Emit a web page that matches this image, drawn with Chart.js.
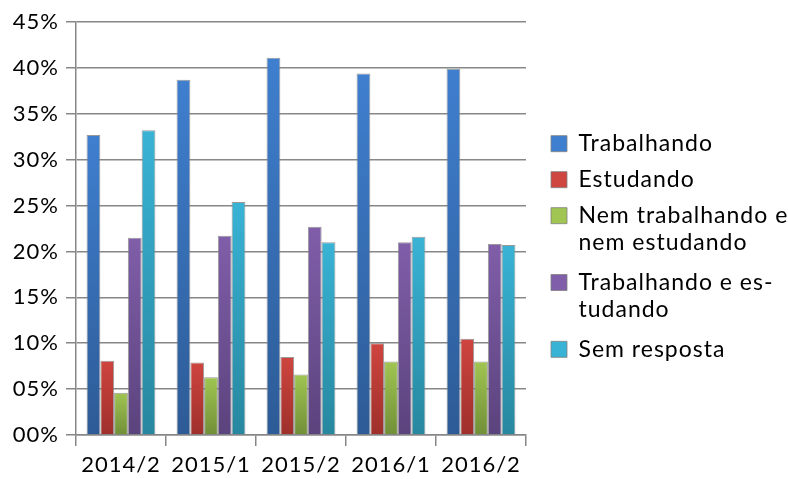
<!DOCTYPE html>
<html>
<head>
<meta charset="utf-8">
<script src="https://cdn.jsdelivr.net/npm/chart.js@4.4.0/dist/chart.umd.min.js"></script>
<style>
html,body{margin:0;padding:0;background:#fff;}
#wrap{width:788px;height:479px;position:relative;}
</style>
</head>
<body>
<div id="wrap"><canvas id="c" width="788" height="479"></canvas></div>
<script>
const categories = ['2014/2', '2015/1', '2015/2', '2016/1', '2016/2'];
const trabalhando = [32.7, 38.7, 41.1, 39.4, 39.9];
const estudando = [8.1, 7.9, 8.5, 10.0, 10.5];
const nemNem = [4.6, 6.3, 6.6, 8.0, 8.0];
const trabEstud = [21.5, 21.7, 22.7, 21.0, 20.8];
const semResposta = [33.2, 25.4, 21.0, 21.6, 20.7];
const seriesNames = ['Trabalhando', 'Estudando', ['Nem trabalhando e', 'nem estudando'], ['Trabalhando e es-', 'tudando'], 'Sem resposta'];
const yTicks = [0, 5, 10, 15, 20, 25, 30, 35, 40, 45];

const palette = [
  ['#3f7fcf', '#2d5b96'],
  ['#cf453f', '#9e2f2b'],
  ['#a0c552', '#718f38'],
  ['#805ea9', '#5b437d'],
  ['#39b3d5', '#27879f']
];

function grad(i) {
  return function(ctx) {
    const chart = ctx.chart;
    const y = chart.scales && chart.scales.y;
    if (!y || ctx.type !== 'data' || !chart.chartArea) return palette[i][0];
    const top = y.getPixelForValue(ctx.raw);
    const bot = y.getPixelForValue(0);
    if (!isFinite(top) || Math.abs(bot - top) < 1) return palette[i][0];
    const g = chart.ctx.createLinearGradient(0, top, 0, bot);
    g.addColorStop(0, palette[i][0]);
    g.addColorStop(1, palette[i][1]);
    return g;
  };
}

const seriesData = [trabalhando, estudando, nemNem, trabEstud, semResposta];
const datasets = seriesData.map((d, i) => ({
  label: seriesNames[i],
  data: d,
  backgroundColor: grad(i),
  borderColor: 'rgba(128,128,128,0.8)',
  borderWidth: 1,
  categoryPercentage: 0.765,
  barPercentage: 1.0
}));

const spacing = {
  id: 'spacing',
  beforeUpdate(chart) { chart.ctx.letterSpacing = '1px'; },
  beforeDraw(chart) { chart.ctx.letterSpacing = '1px'; }
};

const gridColor = '#878787';
const fontFam = 'Lato, "Open Sans", sans-serif';

new Chart(document.getElementById('c'), {
  type: 'bar',
  data: { labels: categories, datasets: datasets },
  plugins: [spacing],
  options: {
    responsive: false,
    animation: false,
    layout: { padding: { top: 14, bottom: 0, left: 0, right: 0 } },
    plugins: {
      tooltip: { enabled: false },
      legend: {
        position: 'right',
        maxWidth: 250,
        labels: {
          color: '#000',
          font: { family: fontFam, size: 23, lineHeight: 1.17 },
          boxWidth: 16,
          boxHeight: 16,
          padding: 13,
          generateLabels(chart) {
            return chart.data.datasets.map((ds, i) => ({
              text: ds.label,
              fillStyle: palette[i][0],
              strokeStyle: 'rgba(128,128,128,0.8)',
              lineWidth: 1,
              datasetIndex: i,
              hidden: false,
              fontColor: '#000'
            }));
          }
        }
      }
    },
    scales: {
      x: {
        grid: { offset: true, drawOnChartArea: false, drawTicks: true, tickLength: 11, color: gridColor, lineWidth: 1.5 },
        border: { display: true, color: gridColor, width: 1.5 },
        ticks: { color: '#000', font: { family: fontFam, size: 22 }, padding: 6, maxRotation: 0 },
        afterFit(s) { s.height = 44; }
      },
      padTop: {
        type: 'category', position: 'top', display: true,
        grid: { display: false, drawTicks: false }, border: { display: false },
        ticks: { display: false },
        afterFit(s) { s.height = 8; }
      },
      y: {
        min: 0, max: 45,
        afterBuildTicks(s) { s.ticks = yTicks.map(v => ({ value: v })); },
        grid: { color: gridColor, lineWidth: 1.5, tickLength: 10 },
        border: { display: true, color: gridColor, width: 1.5 },
        ticks: {
          color: '#000', font: { family: fontFam, size: 22 }, padding: 7,
          callback: v => String(v).padStart(2, '0') + '%'
        },
        afterFit(s) { s.width = 76; }
      },
      gap: {
        position: 'right', display: true,
        grid: { display: false, drawTicks: false }, border: { display: false },
        ticks: { display: false },
        afterFit(s) { s.width = 12; }
      }
    }
  }
});
</script>
</body>
</html>
